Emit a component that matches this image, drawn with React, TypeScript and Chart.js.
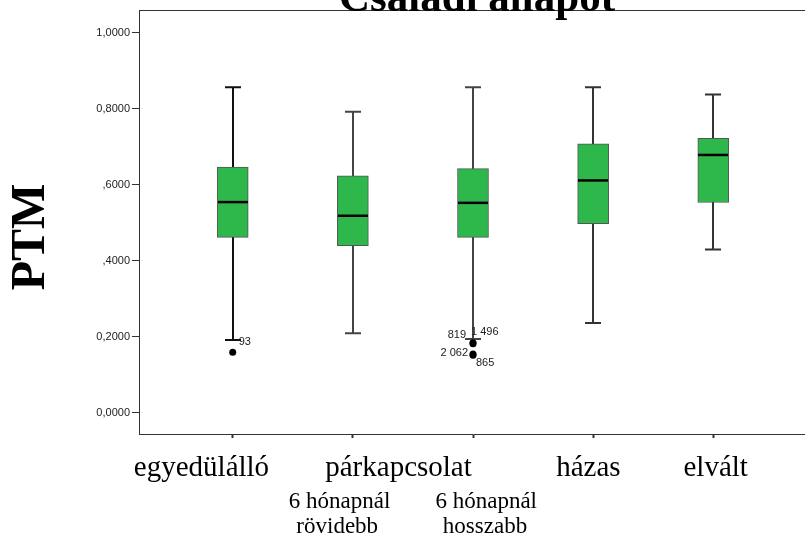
import React, { useEffect, useRef } from 'react';
import { Chart, registerables } from 'chart.js';

Chart.register(...registerables);

// ---- data ----
const categories = ['egyedülálló', 'párkapcsolat 6 hónapnál rövidebb', 'párkapcsolat 6 hónapnál hosszabb', 'házas', 'elvált'];
const whiskerLow = [0.192, 0.21, 0.195, 0.237, 0.43];
const q1 = [0.462, 0.44, 0.462, 0.498, 0.554];
const median = [0.555, 0.519, 0.553, 0.612, 0.679];
const q3 = [0.647, 0.624, 0.643, 0.708, 0.723];
const whiskerHigh = [0.857, 0.793, 0.857, 0.857, 0.838];

const outlierCat = [0, 2, 2, 2, 2];
const outlierVal = [0.16, 0.185, 0.182, 0.155, 0.152];
const outlierId = ['93', '819', '1 496', '2 062', '865'];

const yTicks = [0, 0.2, 0.4, 0.6, 0.8, 1.0];
const yTickLabels = ['0,0000', '0,2000', ',4000', ',6000', '0,8000', '1,0000'];

const titleText = 'Családi állapot';
const yTitleText = 'PTM';

// category-axis text labels (text, position in category units)
const labelLine1 = ['egyedülálló', 'párkapcsolat', 'házas', 'elvált'];
const labelLine1Pos = [-0.26, 1.38, 2.96, 4.02];
const labelLine2 = ['6 hónapnál', '6 hónapnál'];
const labelLine2Pos = [0.89, 2.11];
const labelLine3 = ['rövidebb', 'hosszabb'];
const labelLine3Pos = [0.87, 2.1];

// ---- styles ----
const BOX_FILL = '#2eb84b';
const BOX_BORDER = '#555555';
const WHISKER_COLORS = ['#111111', '#444444', '#444444', '#333333', '#333333'];
const LINE = '#333333';
const outlierLabelOffset: [number, number, CanvasTextAlign][] = [
  [6, -10, 'left'],
  [-7, -8, 'right'],
  [-2, -12, 'left'],
  [-5, -1, 'right'],
  [3, 8, 'left'],
];

const boxPlugin = {
  id: 'boxPlugin',
  beforeDatasetsDraw(chart: any) {
    const { ctx, scales } = chart;
    const x = scales.x;
    const y = scales.y;
    ctx.save();
    ctx.lineWidth = 2;
    categories.forEach((_, i) => {
      ctx.strokeStyle = WHISKER_COLORS[i];
      const cx = Math.round(x.getPixelForValue(i));
      const yl = y.getPixelForValue(whiskerLow[i]);
      const yh = y.getPixelForValue(whiskerHigh[i]);
      ctx.beginPath();
      ctx.moveTo(cx, yl);
      ctx.lineTo(cx, yh);
      ctx.moveTo(cx - 8, yl);
      ctx.lineTo(cx + 8, yl);
      ctx.moveTo(cx - 8, yh);
      ctx.lineTo(cx + 8, yh);
      ctx.stroke();
    });
    ctx.restore();
  },
  afterDatasetsDraw(chart: any) {
    const { ctx, scales } = chart;
    const x = scales.x;
    const y = scales.y;
    ctx.save();
    ctx.strokeStyle = '#000';
    ctx.lineWidth = 2.5;
    categories.forEach((_, i) => {
      const cx = Math.round(x.getPixelForValue(i));
      const ym = y.getPixelForValue(median[i]);
      ctx.beginPath();
      ctx.moveTo(cx - 15, ym);
      ctx.lineTo(cx + 15, ym);
      ctx.stroke();
    });
    // outlier labels
    ctx.fillStyle = '#222';
    ctx.font = '11px "Liberation Sans", Arial, sans-serif';
    ctx.textBaseline = 'middle';
    outlierVal.forEach((v, k) => {
      const px = x.getPixelForValue(outlierCat[k]);
      const py = y.getPixelForValue(v);
      const [dx, dy, al] = outlierLabelOffset[k];
      ctx.textAlign = al;
      ctx.fillText(outlierId[k], px + dx, py + dy);
    });
    ctx.restore();
  },
  afterDraw(chart: any) {
    const { ctx, chartArea, scales } = chart;
    const x = scales.x;
    ctx.save();
    // top border
    ctx.strokeStyle = LINE;
    ctx.lineWidth = 1;
    ctx.beginPath();
    ctx.moveTo(chartArea.left, chartArea.top + 0.5);
    ctx.lineTo(chartArea.right, chartArea.top + 0.5);
    ctx.stroke();

    // title
    ctx.fillStyle = '#000';
    ctx.font = 'bold 43px "Liberation Serif", "Times New Roman", serif';
    ctx.textAlign = 'center';
    ctx.textBaseline = 'alphabetic';
    ctx.fillText(titleText, (chartArea.left + chartArea.right) / 2 + 4, 11);

    // y title
    ctx.save();
    ctx.translate(32, 237);
    ctx.rotate(-Math.PI / 2);
    ctx.font = 'bold 48px "Liberation Serif", "Times New Roman", serif';
    ctx.textBaseline = 'middle';
    ctx.fillText(yTitleText, 0, 0);
    ctx.restore();

    // category labels
    ctx.textAlign = 'center';
    ctx.textBaseline = 'alphabetic';
    ctx.font = '29px "Liberation Serif", "Times New Roman", serif';
    labelLine1.forEach((t, i) => ctx.fillText(t, x.getPixelForValue(labelLine1Pos[i]), 476));
    ctx.font = '23px "Liberation Serif", "Times New Roman", serif';
    labelLine2.forEach((t, i) => ctx.fillText(t, x.getPixelForValue(labelLine2Pos[i]), 508));
    labelLine3.forEach((t, i) => ctx.fillText(t, x.getPixelForValue(labelLine3Pos[i]), 533));
    ctx.restore();
  },
};

export default function App() {
  const ref = useRef<HTMLCanvasElement>(null);
  useEffect(() => {
    document.body.style.margin = '0';
    const canvas = ref.current;
    if (!canvas) return;
    const chart = new Chart(canvas, {
      type: 'bar',
      data: {
        datasets: [
          {
            type: 'bar',
            data: categories.map((_, i) => ({ x: i, y: [q1[i], q3[i]] })) as any,
            backgroundColor: BOX_FILL,
            borderColor: BOX_BORDER,
            borderWidth: 1,
            borderSkipped: false,
            barThickness: 31,
          } as any,
          {
            type: 'scatter',
            data: outlierVal.map((v, k) => ({ x: outlierCat[k], y: v })),
            backgroundColor: '#000',
            borderColor: '#000',
            pointRadius: 3.5,
            borderWidth: 0,
          } as any,
        ],
      },
      options: {
        responsive: false,
        animation: false,
        layout: { padding: { top: 10, left: 0, right: 0, bottom: 0 } },
        plugins: { legend: { display: false }, tooltip: { enabled: false }, title: { display: false } },
        scales: {
          x: {
            type: 'linear',
            offset: false,
            min: -0.78,
            max: 4.78,
            afterBuildTicks: (s: any) => {
              s.ticks = categories.map((_, i) => ({ value: i }));
            },
            afterFit: (s: any) => {
              s.height = 110;
            },
            ticks: { callback: () => '', autoSkip: false },
            grid: { offset: false, drawOnChartArea: false, tickLength: 4, color: LINE, tickWidth: 2 },
            border: { color: LINE, width: 1 },
          },
          y: {
            type: 'linear',
            min: -0.0553,
            max: 1.0605,
            afterBuildTicks: (s: any) => {
              s.ticks = yTicks.map((v) => ({ value: v }));
            },
            afterFit: (s: any) => {
              s.width = 139;
            },
            ticks: {
              callback: (_v: any, i: number) => yTickLabels[i],
              font: { family: '"Liberation Sans", Arial, sans-serif', size: 11 },
              color: '#222',
              padding: 2,
            },
            grid: { drawOnChartArea: false, tickLength: 7, color: LINE },
            border: { color: LINE, width: 1 },
          },
        },
      } as any,
      plugins: [boxPlugin],
    });
    return () => chart.destroy();
  }, []);
  return (
    <div style={{ position: 'absolute', left: 0, top: 0, width: 805, height: 544, overflow: 'hidden', background: '#fff' }}>
      <canvas ref={ref} width={811} height={544} style={{ display: 'block' }} />
    </div>
  );
}
